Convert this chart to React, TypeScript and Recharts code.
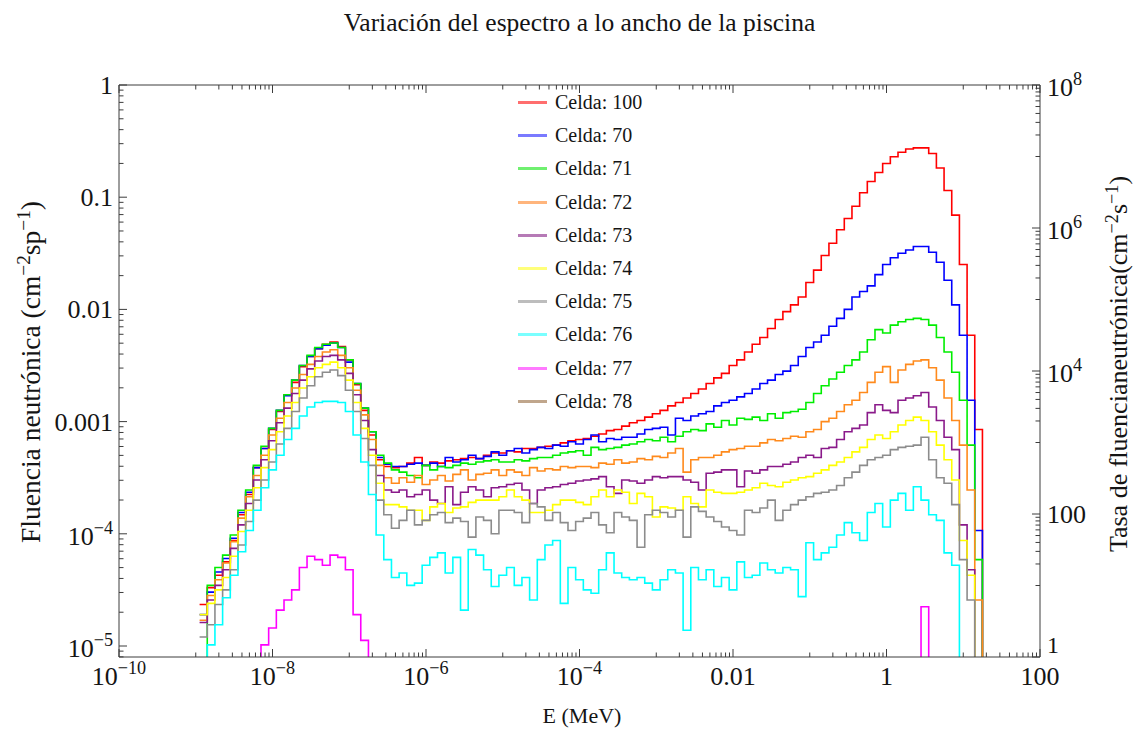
import { LineChart, Line, XAxis, YAxis, Legend } from 'recharts';

const FONT = '"Liberation Serif", "Times New Roman", serif';
const FRAME = '#3c3c3c';
const INK = '#141414';
const TICK_FS = 26;

// energy bins: log10(E / MeV) of the first bin edge, and bin width in decades
const LOG_E_FIRST = -8.95;
const LOG_E_STEP = 0.1;

// log10 of the fluence in each bin (-7 = dropped below the axis)
const C100 = [
  -4.63, -4.48, -4.37, -4.25, -4.06, -3.83, -3.65, -3.41, -3.24, -3.07,
  -2.91, -2.76, -2.65, -2.51, -2.42, -2.35, -2.31, -2.29, -2.33, -2.45,
  -2.67, -2.90, -3.12, -3.34, -3.40, -3.41, -3.40, -3.37, -3.32, -3.39,
  -3.36, -3.37, -3.35, -3.34, -3.33, -3.32, -3.33, -3.30, -3.28, -3.28,
  -3.26, -3.27, -3.24, -3.24, -3.23, -3.22, -3.21, -3.19, -3.17, -3.16,
  -3.15, -3.13, -3.11, -3.08, -3.07, -3.04, -3.01, -2.99, -2.96, -2.93,
  -2.90, -2.86, -2.83, -2.79, -2.75, -2.71, -2.66, -2.61, -2.57, -2.50,
  -2.45, -2.38, -2.31, -2.25, -2.17, -2.09, -2.02, -1.96, -1.89, -1.76,
  -1.65, -1.52, -1.41, -1.29, -1.19, -1.08, -0.96, -0.86, -0.78, -0.70,
  -0.64, -0.60, -0.57, -0.56, -0.56, -0.61, -0.74, -0.94, -1.16, -1.60,
  -2.23, -3.07, -7, -7,
];
const C70 = [
  -4.72, -4.52, -4.34, -4.22, -4.04, -3.81, -3.63, -3.41, -3.24, -3.06,
  -2.90, -2.77, -2.63, -2.50, -2.42, -2.35, -2.32, -2.30, -2.34, -2.47,
  -2.66, -2.88, -3.09, -3.32, -3.38, -3.40, -3.40, -3.38, -3.37, -3.39,
  -3.37, -3.40, -3.32, -3.36, -3.34, -3.30, -3.33, -3.31, -3.27, -3.30,
  -3.26, -3.24, -3.28, -3.25, -3.23, -3.24, -3.21, -3.22, -3.18, -3.20,
  -3.16, -3.12, -3.18, -3.15, -3.16, -3.14, -3.14, -3.11, -3.07, -3.06,
  -3.05, -3.12, -2.97, -2.99, -2.95, -2.93, -2.91, -2.86, -2.83, -2.81,
  -2.78, -2.75, -2.71, -2.66, -2.63, -2.58, -2.55, -2.50, -2.42, -2.34,
  -2.29, -2.23, -2.15, -2.08, -2.00, -1.89, -1.84, -1.79, -1.69, -1.60,
  -1.54, -1.50, -1.47, -1.44, -1.44, -1.49, -1.58, -1.74, -1.96, -2.23,
  -2.81, -3.97, -7, -7,
];
const C71 = [
  -7, -4.46, -4.30, -4.19, -4.01, -3.79, -3.61, -3.39, -3.22, -3.06,
  -2.90, -2.76, -2.63, -2.50, -2.41, -2.34, -2.31, -2.30, -2.34, -2.45,
  -2.66, -2.88, -3.09, -3.30, -3.37, -3.43, -3.45, -3.48, -3.50, -3.39,
  -3.43, -3.40, -3.41, -3.39, -3.37, -3.38, -3.36, -3.35, -3.34, -3.36,
  -3.36, -3.34, -3.35, -3.33, -3.32, -3.32, -3.30, -3.28, -3.27, -3.26,
  -3.30, -3.23, -3.25, -3.24, -3.23, -3.21, -3.20, -3.18, -3.16, -3.17,
  -3.14, -3.18, -3.13, -3.09, -3.07, -3.08, -3.02, -3.05, -2.99, -3.03,
  -2.97, -2.98, -2.96, -2.99, -2.93, -2.97, -2.92, -2.91, -2.89, -2.83,
  -2.75, -2.68, -2.62, -2.56, -2.50, -2.45, -2.38, -2.27, -2.18, -2.21,
  -2.14, -2.11, -2.09, -2.08, -2.09, -2.14, -2.25, -2.38, -2.56, -2.81,
  -3.21, -4.23, -7, -7,
];
const C72 = [
  -4.77, -4.55, -4.41, -4.26, -4.07, -3.86, -3.67, -3.48, -3.30, -3.12,
  -2.97, -2.83, -2.70, -2.58, -2.49, -2.42, -2.38, -2.36, -2.41, -2.52,
  -2.72, -2.94, -3.16, -3.39, -3.50, -3.55, -3.50, -3.54, -3.48, -3.56,
  -3.52, -3.48, -3.53, -3.47, -3.43, -3.52, -3.47, -3.46, -3.43, -3.48,
  -3.43, -3.45, -3.48, -3.41, -3.44, -3.42, -3.43, -3.40, -3.41, -3.40,
  -3.40, -3.41, -3.37, -3.38, -3.34, -3.37, -3.36, -3.33, -3.34, -3.31,
  -3.32, -3.28, -3.24, -3.45, -3.34, -3.32, -3.32, -3.30, -3.27, -3.25,
  -3.24, -3.22, -3.22, -3.19, -3.16, -3.17, -3.15, -3.13, -3.14, -3.09,
  -3.07, -3.00, -2.97, -2.91, -2.85, -2.81, -2.74, -2.65, -2.56, -2.51,
  -2.65, -2.54, -2.49, -2.46, -2.45, -2.52, -2.63, -2.79, -2.99, -3.21,
  -3.61, -4.59, -7, -7,
];
const C73 = [
  -4.79, -4.59, -4.46, -4.32, -4.13, -3.92, -3.73, -3.52, -3.34, -3.17,
  -3.01, -2.88, -2.75, -2.63, -2.53, -2.46, -2.42, -2.41, -2.45, -2.57,
  -2.76, -2.99, -3.25, -3.48, -3.61, -3.63, -3.61, -3.67, -3.65, -3.61,
  -3.70, -3.73, -3.58, -3.74, -3.63, -3.58, -3.61, -3.67, -3.59, -3.58,
  -3.56, -3.55, -3.61, -3.73, -3.61, -3.59, -3.58, -3.56, -3.55, -3.53,
  -3.52, -3.51, -3.49, -3.58, -3.64, -3.52, -3.53, -3.55, -3.52, -3.49,
  -3.50, -3.49, -3.49, -3.52, -3.54, -3.61, -3.46, -3.45, -3.43, -3.43,
  -3.58, -3.44, -3.46, -3.43, -3.40, -3.40, -3.38, -3.36, -3.32, -3.30,
  -3.32, -3.24, -3.23, -3.16, -3.09, -3.06, -3.03, -2.92, -2.85, -2.90,
  -2.92, -2.81, -2.79, -2.77, -2.74, -2.87, -2.99, -3.14, -3.25, -3.92,
  -4.32, -7, -7, -7,
];
const C74 = [
  -4.72, -4.62, -4.50, -4.39, -4.20, -3.98, -3.79, -3.59, -3.41, -3.25,
  -3.09, -2.95, -2.83, -2.70, -2.60, -2.52, -2.49, -2.47, -2.52, -2.63,
  -2.83, -3.06, -3.30, -3.55, -3.74, -3.74, -3.76, -3.79, -3.79, -3.88,
  -3.76, -3.73, -3.81, -3.77, -3.76, -3.72, -3.70, -3.70, -3.70, -3.67,
  -3.61, -3.67, -3.70, -3.81, -3.81, -3.79, -3.74, -3.70, -3.70, -3.72,
  -3.74, -3.67, -3.61, -3.67, -3.61, -3.63, -3.73, -3.64, -3.67, -3.85,
  -3.76, -3.77, -3.79, -3.67, -3.73, -3.76, -3.61, -3.63, -3.64, -3.64,
  -3.63, -3.61, -3.59, -3.55, -3.57, -3.58, -3.54, -3.52, -3.50, -3.49,
  -3.46, -3.43, -3.39, -3.36, -3.32, -3.27, -3.23, -3.16, -3.12, -3.15,
  -3.09, -3.03, -2.99, -2.96, -2.99, -3.09, -3.21, -3.34, -3.52, -4.06,
  -4.37, -7, -7, -7,
];
const C75 = [
  -4.92, -4.81, -4.63, -4.50, -4.32, -4.10, -3.89, -3.70, -3.52, -3.36,
  -3.20, -3.06, -2.91, -2.79, -2.68, -2.60, -2.56, -2.54, -2.59, -2.72,
  -2.91, -3.15, -3.39, -3.70, -3.83, -3.95, -3.88, -3.79, -3.92, -3.88,
  -3.83, -3.81, -3.90, -3.86, -3.89, -4.03, -3.85, -3.88, -4.00, -3.79,
  -3.79, -3.81, -3.90, -3.73, -3.76, -3.88, -3.81, -3.90, -3.97, -3.89,
  -3.86, -3.81, -3.92, -3.99, -3.81, -3.85, -3.88, -4.12, -3.83, -3.79,
  -3.81, -3.85, -3.79, -4.03, -3.76, -3.80, -3.85, -3.89, -3.94, -3.97,
  -4.01, -3.79, -3.81, -3.77, -3.70, -3.88, -3.79, -3.74, -3.70, -3.67,
  -3.64, -3.63, -3.61, -3.57, -3.50, -3.45, -3.39, -3.34, -3.32, -3.30,
  -3.25, -3.23, -3.22, -3.21, -3.14, -3.34, -3.50, -3.55, -3.74, -4.23,
  -4.59, -7, -7, -7,
];
const C76 = [
  -7, -4.99, -4.81, -4.57, -4.37, -4.16, -3.97, -3.79, -3.59, -3.43,
  -3.30, -3.16, -3.06, -2.95, -2.87, -2.83, -2.82, -2.82, -2.83, -2.91,
  -3.12, -3.36, -3.65, -4.01, -4.23, -4.39, -4.35, -4.46, -4.44, -4.28,
  -4.21, -4.17, -4.35, -4.21, -4.68, -4.14, -4.19, -4.32, -4.47, -4.37,
  -4.30, -4.46, -4.39, -4.59, -4.23, -4.10, -4.06, -4.62, -4.30, -4.41,
  -4.50, -4.53, -4.32, -4.17, -4.35, -4.39, -4.41, -4.39, -4.44, -4.50,
  -4.41, -4.32, -4.35, -4.86, -4.30, -4.41, -4.32, -4.47, -4.39, -4.50,
  -4.25, -4.39, -4.37, -4.26, -4.32, -4.35, -4.30, -4.32, -4.56, -4.08,
  -4.23, -4.17, -4.12, -4.01, -3.90, -3.99, -4.06, -3.81, -3.73, -3.94,
  -3.70, -3.64, -3.79, -3.58, -3.70, -3.83, -3.88, -4.17, -4.28, -7,
  null, null, null, null,
];
const C77 = [
  null, null, null, null, null, null, null, -7, -4.99, -4.84,
  -4.68, -4.59, -4.50, -4.30, -4.20, -4.23, -4.28, -4.19, -4.21, -4.32,
  -4.72, -4.95, -7, null, null, null, null, null, null, null,
  null, null, null, null, null, null, null, null, null, null,
  null, null, null, null, null, null, null, null, null, null,
  null, null, null, null, null, null, null, null, null, null,
  null, null, null, null, null, null, null, null, null, null,
  null, null, null, null, null, null, null, null, null, null,
  null, null, null, null, null, null, null, null, null, null,
  null, null, null, -7, -4.65, -7, null, null, null, null,
  null, null, null, null,
];
const C78: (number | null)[] = [];

const SERIES = [
  { key: 'c100', name: 'Celda: 100', data: C100, color: '#ff0000', legend: '#ff6e6e' },
  { key: 'c70', name: 'Celda: 70', data: C70, color: '#0000ff', legend: '#7a7aff' },
  { key: 'c71', name: 'Celda: 71', data: C71, color: '#00ee00', legend: '#70f070' },
  { key: 'c72', name: 'Celda: 72', data: C72, color: '#ff8a1c', legend: '#ffb57c' },
  { key: 'c73', name: 'Celda: 73', data: C73, color: '#8a1a8a', legend: '#b67ab6' },
  { key: 'c74', name: 'Celda: 74', data: C74, color: '#ffff00', legend: '#ffff7a' },
  { key: 'c75', name: 'Celda: 75', data: C75, color: '#8c8c8c', legend: '#bdbdbd' },
  { key: 'c76', name: 'Celda: 76', data: C76, color: '#00ffff', legend: '#7affff' },
  { key: 'c77', name: 'Celda: 77', data: C77, color: '#ff00ff', legend: '#ff7aff' },
  { key: 'c78', name: 'Celda: 78', data: C78, color: '#996633', legend: '#c0a68c' },
];

// tick labels, keyed by decade exponent
const X_LABELS: Record<number, string[]> = {
  '-10': ['10', '−10'], '-8': ['10', '−8'], '-6': ['10', '−6'], '-4': ['10', '−4'],
  '-2': ['0.01'], 0: ['1'], 2: ['100'],
};
const Y_LABELS: Record<number, string[]> = {
  0: ['1'], '-1': ['0.1'], '-2': ['0.01'], '-3': ['0.001'], '-4': ['10', '−4'], '-5': ['10', '−5'],
};
const R_LABELS: Record<number, string[]> = {
  0: ['1'], 2: ['100'], 4: ['10', '4'], 6: ['10', '6'], 8: ['10', '8'],
};

const X_DOMAIN = [1e-10, 100];
const Y_DOMAIN = [7.98e-6, 1];
const R_DOMAIN = [1, 1e8];

// majors every 2 decades, minors only inside the odd decades
function twoDecadeTicks(lo: number, hi: number) {
  const out: number[] = [];
  for (let e = lo; e <= hi; e++) {
    if (e % 2 === 0) out.push(10 ** e);
    else for (let k = 1; k <= 9; k++) out.push(k * 10 ** e);
  }
  return out;
}
function decadeTicks(lo: number, hi: number, min: number) {
  const out: number[] = [];
  for (let e = lo; e <= hi; e++) {
    out.push(10 ** e);
    if (e < hi) for (let k = 2; k <= 9; k++) out.push(k * 10 ** e);
  }
  return out.filter((v) => v >= min);
}
const X_TICKS = twoDecadeTicks(-10, 2);
const Y_TICKS = decadeTicks(-6, 0, Y_DOMAIN[0]).filter((v) => v <= 1);
const R_TICKS = twoDecadeTicks(0, 8);

const rows = C100.map((_, i) => {
  const row: Record<string, number | null> = { e: 10 ** (LOG_E_FIRST + i * LOG_E_STEP) };
  for (const s of SERIES) {
    const v = s.data[i];
    row[s.key] = v == null ? null : 10 ** v;
  }
  return row;
});

function decade(v: number) {
  const l = Math.log10(v);
  const r = Math.round(l);
  return Math.abs(l - r) < 1e-6 ? r : null;
}

function TickText({ x, y, anchor, parts, size = TICK_FS }: { x: number; y: number; anchor: string; parts: string[]; size?: number }) {
  return (
    <text x={x} y={y} textAnchor={anchor as any} fontFamily={FONT} fontSize={size} fill={INK}>
      {parts[0]}
      {parts[1] && (
        <tspan dy={-11} fontSize={size * 0.7}>
          {parts[1]}
        </tspan>
      )}
    </text>
  );
}

function BottomTick(props: any) {
  const { x, y, payload } = props;
  const d = decade(payload.value);
  const major = d != null && d % 2 === 0;
  const len = major ? 8 : 4.5;
  const label = major ? X_LABELS[d as number] : null;
  return (
    <g>
      <line x1={x} x2={x} y1={y} y2={y - len} stroke={FRAME} />
      {label && <TickText x={x} y={y + 28} anchor="middle" parts={label} />}
    </g>
  );
}

function TopTick(props: any) {
  const { x, y, payload } = props;
  const d = decade(payload.value);
  const len = d != null && d % 2 === 0 ? 8 : 4.5;
  return <line x1={x} x2={x} y1={y} y2={y + len} stroke={FRAME} />;
}

function LeftTick(props: any) {
  const { x, y, payload } = props;
  const d = decade(payload.value);
  const len = d != null ? 8 : 4.5;
  const label = d != null ? Y_LABELS[d] : null;
  return (
    <g>
      <line x1={x} x2={x + len} y1={y} y2={y} stroke={FRAME} />
      {label && <TickText x={x - 6} y={y + (label.length > 1 ? 11 : 9)} anchor="end" parts={label} />}
    </g>
  );
}

function RightTick(props: any) {
  const { x, y, payload } = props;
  const d = decade(payload.value);
  const major = d != null && d % 2 === 0;
  const len = major ? 8 : 4.5;
  const label = major ? R_LABELS[d as number] : null;
  // the lowest label sits higher and a bit smaller so it clears the "100" under the corner
  const low = d === 0;
  const dy = low ? -4 : label && label.length > 1 ? 11 : 9;
  return (
    <g>
      <line x1={x} x2={x - len} y1={y} y2={y} stroke={FRAME} />
      {label && <TickText x={x + 7} y={y + dy} anchor="start" parts={label} size={low ? 24 : TICK_FS} />}
    </g>
  );
}

function LegendBox(props: any) {
  const items = props.payload || [];
  return (
    <div style={{ fontFamily: FONT, fontSize: 20, color: INK }}>
      {items.map((it: any) => {
        const s = SERIES.find((q) => q.key === it.dataKey);
        return (
          <div key={it.dataKey} style={{ display: 'flex', alignItems: 'center', height: 33.2, whiteSpace: 'nowrap' }}>
            <span style={{ display: 'inline-block', width: 29, height: 3, background: s?.legend, marginRight: 8 }} />
            <span style={{ fontFamily: FONT }}>{it.value}</span>
          </div>
        );
      })}
    </div>
  );
}

const sup = { fontSize: '0.7em' };

export default function App() {
  return (
    <div style={{ position: 'absolute', left: 0, top: 0, width: 1137, height: 731, background: '#fff', fontFamily: FONT, color: INK }}>
      <div style={{ position: 'absolute', left: 11, width: 1137, top: 8, textAlign: 'center', fontSize: 25.5 }}>
        Variación del espectro a lo ancho de la piscina
      </div>
      <LineChart width={1137} height={731} data={rows} margin={{ top: 84, right: 96, bottom: 73, left: 118 }}>
        <XAxis
          xAxisId="b"
          dataKey="e"
          type="number"
          scale="log"
          domain={X_DOMAIN}
          allowDataOverflow
          ticks={X_TICKS}
          interval={0}
          height={1}
          tickSize={0}
          tickMargin={0}
          tickLine={false}
          tick={<BottomTick />}
          axisLine={{ stroke: FRAME }}
        />
        <XAxis
          xAxisId="t"
          orientation="top"
          dataKey="e"
          type="number"
          scale="log"
          domain={X_DOMAIN}
          allowDataOverflow
          ticks={X_TICKS}
          interval={0}
          height={1}
          tickSize={0}
          tickMargin={0}
          tickLine={false}
          tick={<TopTick />}
          axisLine={{ stroke: FRAME }}
        />
        <YAxis
          yAxisId="l"
          type="number"
          scale="log"
          domain={Y_DOMAIN}
          allowDataOverflow
          ticks={Y_TICKS}
          interval={0}
          width={1}
          tickSize={0}
          tickMargin={0}
          tickLine={false}
          tick={<LeftTick />}
          axisLine={{ stroke: FRAME }}
        />
        <YAxis
          yAxisId="r"
          orientation="right"
          type="number"
          scale="log"
          domain={R_DOMAIN}
          allowDataOverflow
          ticks={R_TICKS}
          interval={0}
          width={1}
          tickSize={0}
          tickMargin={0}
          tickLine={false}
          tick={<RightTick />}
          axisLine={{ stroke: FRAME }}
        />
        {SERIES.map((s) => (
          <Line
            key={s.key}
            xAxisId="b"
            yAxisId="l"
            dataKey={s.key}
            name={s.name}
            type="stepAfter"
            stroke={s.color}
            strokeWidth={1.6}
            dot={false}
            activeDot={false}
            isAnimationActive={false}
          />
        ))}
        <Legend
          layout="vertical"
          align="center"
          verticalAlign="middle"
          content={<LegendBox />}
          wrapperStyle={{ left: 518, top: 86, width: 170 }}
        />
      </LineChart>
      <div style={{ position: 'absolute', left: 582, top: 716, transform: 'translate(-50%, -50%)', fontSize: 22, whiteSpace: 'nowrap' }}>
        E (MeV)
      </div>
      <div style={{ position: 'absolute', left: 30, top: 372, transform: 'translate(-50%, -50%) rotate(-90deg)', fontSize: 27.5, whiteSpace: 'nowrap' }}>
        Fluencia neutrónica (cm<sup style={sup}>−2</sup>sp<sup style={sup}>−1</sup>)
      </div>
      <div style={{ position: 'absolute', left: 1118, top: 364, transform: 'translate(-50%, -50%) rotate(-90deg)', fontSize: 26, whiteSpace: 'nowrap' }}>
        Tasa de fluencianeutrónica(cm<sup style={sup}>−2</sup>s<sup style={sup}>−1</sup>)
      </div>
    </div>
  );
}
